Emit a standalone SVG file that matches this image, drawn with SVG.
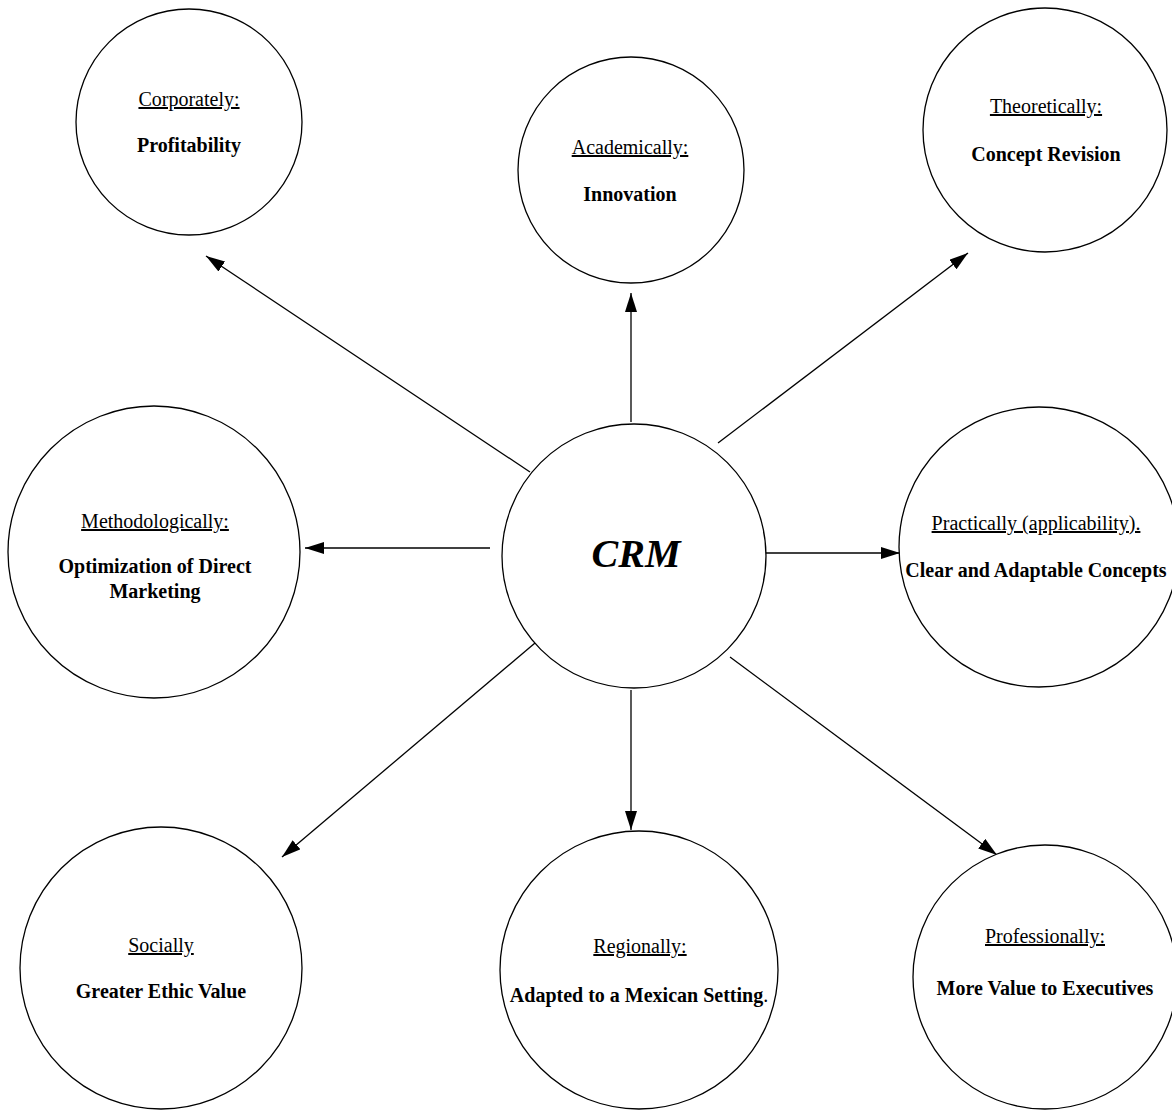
<svg xmlns="http://www.w3.org/2000/svg" width="1172" height="1111" viewBox="0 0 1172 1111">
<style>
.node{fill:#fff;stroke:#000;stroke-width:1.3}
.lbl{font-family:"Liberation Serif",serif;font-size:20px;text-decoration:underline;text-anchor:middle;fill:#000}
.val{font-family:"Liberation Serif",serif;font-size:20px;font-weight:bold;text-anchor:middle;fill:#000}
.crm{font-family:"Liberation Serif",serif;font-size:40px;font-weight:bold;font-style:italic;text-anchor:middle;fill:#000}
.edge{stroke:#000;stroke-width:1.3;fill:none;marker-end:url(#ah)}
</style>
<defs>
<marker id="ah" viewBox="0 0 19 12" refX="19" refY="6" markerWidth="19" markerHeight="12" markerUnits="userSpaceOnUse" orient="auto">
<path d="M0,0 L19,6 L0,12 Z" fill="#000"/>
</marker>
</defs>
<rect width="1172" height="1111" fill="#fff"/>
<g id="connectors">
<line class="edge" x1="530" y1="472" x2="206" y2="256"/>
<line class="edge" x1="631" y1="422" x2="631" y2="293"/>
<line class="edge" x1="718" y1="443" x2="968" y2="253"/>
<line class="edge" x1="490" y1="548" x2="305" y2="548"/>
<line class="edge" x1="758" y1="553" x2="900" y2="553"/>
<line class="edge" x1="548" y1="632" x2="282" y2="857"/>
<line class="edge" x1="631" y1="690" x2="631" y2="830"/>
<line class="edge" x1="730" y1="657" x2="997" y2="855"/>
</g>
<g id="crm">
<circle class="node" cx="634" cy="556" r="132"/>
<text class="crm" x="636" y="567">CRM</text>
</g>
<g id="corporately">
<circle class="node" cx="189" cy="122" r="113"/>
<text class="lbl" x="189" y="106">Corporately:</text>
<text class="val" x="189" y="152">Profitability</text>
</g>
<g id="academically">
<circle class="node" cx="631" cy="170" r="113"/>
<text class="lbl" x="630" y="154">Academically:</text>
<text class="val" x="630" y="201">Innovation</text>
</g>
<g id="theoretically">
<circle class="node" cx="1045" cy="130" r="122"/>
<text class="lbl" x="1046" y="113">Theoretically:</text>
<text class="val" x="1046" y="161">Concept Revision</text>
</g>
<g id="methodologically">
<circle class="node" cx="154" cy="552" r="146"/>
<text class="lbl" x="155" y="528">Methodologically:</text>
<text class="val" x="155" y="573">Optimization of Direct</text>
<text class="val" x="155" y="598">Marketing</text>
</g>
<g id="practically">
<circle class="node" cx="1039" cy="547" r="140"/>
<text class="lbl" x="1036" y="530">Practically (applicability).</text>
<text class="val" x="1036" y="577">Clear and Adaptable Concepts</text>
</g>
<g id="socially">
<circle class="node" cx="161" cy="968" r="141"/>
<text class="lbl" x="161" y="952">Socially</text>
<text class="val" x="161" y="998">Greater Ethic Value</text>
</g>
<g id="regionally">
<circle class="node" cx="639" cy="970" r="139"/>
<text class="lbl" x="640" y="953">Regionally:</text>
<text class="val" x="639" y="1002">Adapted to a Mexican Setting<tspan font-weight="normal">.</tspan></text>
</g>
<g id="professionally">
<circle class="node" cx="1045" cy="977" r="132"/>
<text class="lbl" x="1045" y="943">Professionally:</text>
<text class="val" x="1045" y="995">More Value to Executives</text>
</g>
</svg>
